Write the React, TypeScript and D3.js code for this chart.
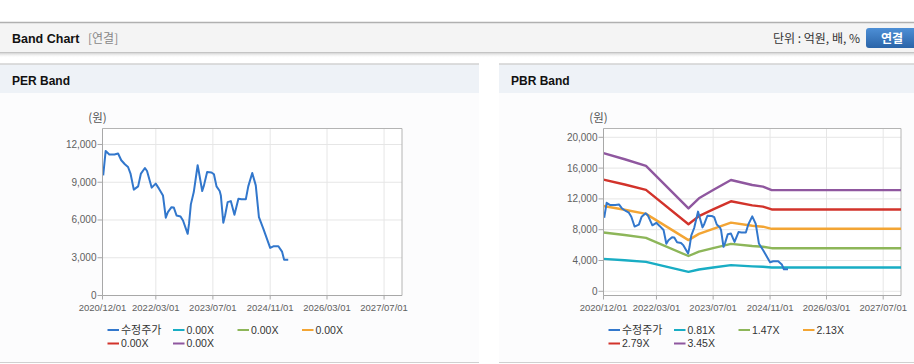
import React from 'react';
import * as d3 from 'd3';

// ---------- DATA ----------
const priceDates = [
  '2020-12-07', '2020-12-28', '2021-01-28', '2021-03-13', '2021-04-13', '2021-05-10', '2021-06-10',
  '2021-07-07', '2021-07-28', '2021-08-25', '2021-10-01', '2021-10-25', '2021-11-28', '2021-12-16',
  '2022-01-25', '2022-02-28', '2022-03-28', '2022-05-01', '2022-05-25', '2022-06-12', '2022-07-13',
  '2022-08-01', '2022-08-25', '2022-09-28', '2022-10-19', '2022-11-28', '2022-12-10', '2022-12-25',
  '2023-01-19', '2023-02-21', '2023-03-01', '2023-04-01', '2023-04-16', '2023-05-13', '2023-06-19',
  '2023-07-10', '2023-08-01', '2023-08-28', '2023-09-07', '2023-09-28', '2023-10-13', '2023-11-04',
  '2023-12-01', '2024-01-01', '2024-02-04', '2024-03-01', '2024-04-07', '2024-04-28', '2024-06-01',
  '2024-07-01', '2024-07-28', '2024-09-04', '2024-11-01', '2024-11-28', '2025-01-10', '2025-02-10',
  '2025-02-28', '2025-04-04',
];
const priceValues = [
  9550, 11490, 11200, 11200, 11280, 10750, 10430,
  10210, 9690, 8410, 8670, 9690, 10130, 9890,
  8570, 8890, 8490, 7955, 6180, 6620, 7020,
  7000, 6360, 6280, 5960, 4900, 5745, 7240,
  8220, 10350, 9950, 8300, 8750, 9810, 9780,
  9630, 8670, 8300, 7955, 5780, 6360, 7420,
  7500, 6410, 7690, 7640, 7640, 8670, 9735,
  8750, 6220, 5300, 3780, 3910, 3910, 3490,
  2850, 2850,
];

const bandDates = [
  '2020-12-01', '2021-06-01', '2021-12-01', '2022-12-01', '2023-03-01', '2023-07-01',
  '2023-12-01', '2024-06-01', '2024-09-01', '2024-11-15', '2027-12-01',
];
const band081 = [4212, 4026, 3823, 2527, 2835, 3086, 3394, 3240, 3191, 3086, 3086];
const band147 = [7644, 7306, 6938, 4586, 5145, 5601, 6159, 5880, 5792, 5601, 5601];
const band213 = [11076, 10586, 10054, 6646, 7455, 8115, 8925, 8520, 8392, 8115, 8115];
const band279 = [14508, 13866, 13169, 8705, 9765, 10630, 11690, 11160, 10993, 10630, 10630];
const band345 = [17940, 17147, 16284, 10764, 12075, 13145, 14456, 13800, 13593, 13145, 13145];

const perLegendLabels = ['수정주가', '0.00X', '0.00X', '0.00X', '0.00X', '0.00X'];
const pbrLegendLabels = ['수정주가', '0.81X', '1.47X', '2.13X', '2.79X', '3.45X'];
const xTickDates = ['2020-12-01', '2022-03-01', '2023-07-01', '2024-11-01', '2026-03-01', '2027-07-01'];
const xDomainDates = ['2020-12-01', '2027-12-01'];
const perYTicks = [0, 3000, 6000, 9000, 12000];
const pbrYTicks = [0, 4000, 8000, 12000, 16000, 20000];
const perYDomain = [0, 13270];
const pbrYDomain = [-545, 21143];

// ---------- STYLE ----------
const seriesColors = ['#3277cc', '#19adc4', '#8db659', '#f3a534', '#d2332b', '#8f579f'];
const FONT = '"Liberation Sans", Arial, "Noto Sans CJK KR", sans-serif';
const KFONT = '"Noto Sans CJK KR", "Liberation Sans", sans-serif';

const parse = d3.utcParse('%Y-%m-%d');
const fmtTick = d3.utcFormat('%Y/%m/%d');
const fmtNum = d3.format(',');

type ChartProps = {
  left: number; right: number; top: number; bottom: number;
  yDomain: number[]; yTicks: number[]; legend: string[]; showBands: boolean;
};

function BandChart({ left, right, top, bottom, yDomain, yTicks, legend, showBands }: ChartProps) {
  const x = d3.scaleUtc().domain(xDomainDates.map((d) => parse(d) as Date)).range([left, right]);
  const y = d3.scaleLinear().domain(yDomain).range([bottom, top]);
  const line = d3.line<[Date, number]>().x((d) => x(d[0])).y((d) => y(d[1]));
  const pricePts: [Date, number][] = priceDates.map((d, i) => [parse(d) as Date, priceValues[i]]);
  const bands = [band081, band147, band213, band279, band345];
  const bandPaths = bands.map((b) => line(bandDates.map((d, i) => [parse(d) as Date, b[i]] as [Date, number])) || '');
  const clipId = `clip-${Math.round(left)}`;

  const legendCols = [5, 70.5, 135, 199.5];
  return (
    <g>
      <defs>
        <clipPath id={clipId}>
          <rect x={left} y={top} width={right - left} height={bottom - top} />
        </clipPath>
      </defs>
      <rect x={left} y={top} width={right - left} height={bottom - top} fill="#ffffff" />
      {/* grid */}
      {yTicks.map((t) => (
        <line key={'gy' + t} x1={left} x2={right} y1={y(t)} y2={y(t)} stroke="#e6e6e6" strokeWidth={1} />
      ))}
      {xTickDates.map((t) => (
        <line key={'gx' + t} x1={x(parse(t) as Date)} x2={x(parse(t) as Date)} y1={top} y2={bottom} stroke="#e6e6e6" strokeWidth={1} />
      ))}
      {/* border */}
      <line x1={left} x2={right} y1={top} y2={top} stroke="#b4b4b4" />
      <line x1={right} x2={right} y1={top} y2={bottom} stroke="#b4b4b4" />
      {/* series */}
      <g clipPath={`url(#${clipId})`}>
        {showBands &&
          bandPaths.map((p, i) => (
            <path key={'b' + i} d={p} fill="none" stroke={seriesColors[i + 1]} strokeWidth={2.4} strokeLinejoin="round" />
          ))}
        <path d={line(pricePts) || ''} fill="none" stroke={seriesColors[0]} strokeWidth={2} strokeLinejoin="round" />
      </g>
      {/* axes */}
      <line x1={left} x2={left} y1={top} y2={bottom} stroke="#a8a8a8" />
      <line x1={left} x2={right} y1={bottom} y2={bottom} stroke="#a8a8a8" />
      {yTicks.map((t) => (
        <g key={'ty' + t}>
          <line x1={left - 5} x2={left} y1={y(t)} y2={y(t)} stroke="#a8a8a8" />
          <text x={left - 6} y={y(t)} dy="0.35em" textAnchor="end" fontSize={10} fill="#606060" fontFamily={FONT}>
            {fmtNum(t)}
          </text>
        </g>
      ))}
      {xTickDates.map((t) => {
        const xx = x(parse(t) as Date);
        return (
          <g key={'tx' + t}>
            <line x1={xx} x2={xx} y1={bottom} y2={bottom + 4} stroke="#a8a8a8" />
            <text x={xx} y={311} textAnchor="middle" fontSize={9.5} fill="#606060" fontFamily={FONT}>
              {fmtTick(parse(t) as Date)}
            </text>
          </g>
        );
      })}
      <text x={left - 5} y={122} textAnchor="middle" fontSize={11.5} fill="#555" fontFamily={KFONT}>
        (원)
      </text>
      {/* legend */}
      {legend.map((lab, i) => {
        const col = i % 4;
        const row = Math.floor(i / 4);
        const lx = left + legendCols[col];
        const ly = 330 + row * 13.5;
        return (
          <g key={'lg' + i}>
            <line x1={lx} x2={lx + 11.5} y1={ly} y2={ly} stroke={seriesColors[i]} strokeWidth={2} />
            <text x={lx + 13.5} y={ly} dy="0.36em" fontSize={i === 0 ? 11 : 10.5} fill="#333" fontFamily={i === 0 ? KFONT : FONT}>
              {lab}
            </text>
          </g>
        );
      })}
    </g>
  );
}

export default function App() {
  return (
    <svg
      width={914}
      height={364}
      viewBox="0 0 914 364"
      style={{ position: 'absolute', left: 0, top: 0, display: 'block', background: '#ffffff' }}
    >
      <defs>
        <linearGradient id="hdrShadow" x1="0" y1="0" x2="0" y2="1">
          <stop offset="0" stopColor="#cfcfcf" stopOpacity={0.9} />
          <stop offset="1" stopColor="#ffffff" stopOpacity={0} />
        </linearGradient>
        <linearGradient id="btnGrad" x1="0" y1="0" x2="0" y2="1">
          <stop offset="0" stopColor="#4d8fd6" />
          <stop offset="1" stopColor="#2a64a8" />
        </linearGradient>
      </defs>
      {/* header */}
      <rect x={0} y={22} width={914} height={31} fill="#f4f4f4" />
      <line x1={0} x2={914} y1={22.5} y2={22.5} stroke="#b0b0b0" strokeWidth={1.5} />
      <line x1={0} x2={914} y1={52.5} y2={52.5} stroke="#c4c4c4" strokeWidth={1} />
      <rect x={0} y={53} width={914} height={5} fill="url(#hdrShadow)" />
      <text x={12} y={43} fontSize={12.5} fontWeight="bold" fill="#111" fontFamily={FONT}>Band Chart</text>
      <text x={88} y={43} fontSize={12} fill="#888" fontFamily={KFONT}>[연결]</text>
      <text x={860} y={43} textAnchor="end" fontSize={12} fill="#333" fontFamily={KFONT}>단위 : 억원, 배, %</text>
      <rect x={866} y={28} width={54} height={20} rx={3} fill="url(#btnGrad)" />
      <text x={892} y={42.5} textAnchor="middle" fontSize={12} fontWeight="bold" fill="#ffffff" fontFamily={KFONT}>연결</text>

      {/* panels */}
      {[
        { x0: 0, x1: 479, title: 'PER Band' },
        { x0: 499, x1: 914, title: 'PBR Band' },
      ].map((p) => (
        <g key={p.title}>
          <rect x={p.x0} y={64} width={p.x1 - p.x0} height={299} fill="#fcfcfd" />
          <rect x={p.x0} y={64} width={p.x1 - p.x0} height={29} fill="#eef2f7" />
          <line x1={p.x0} x2={p.x1} y1={64} y2={64} stroke="#d2d2d2" strokeWidth={1.5} />
          <line x1={p.x0} x2={p.x1} y1={362.5} y2={362.5} stroke="#d0d0d0" />
          <text x={p.x0 + 12} y={85} fontSize={12} fontWeight="bold" fill="#111" fontFamily={FONT}>{p.title}</text>
        </g>
      ))}

      <BandChart left={102.5} right={402} top={128.5} bottom={295.5} yDomain={perYDomain} yTicks={perYTicks} legend={perLegendLabels} showBands={false} />
      <BandChart left={603.5} right={901} top={128.5} bottom={295.5} yDomain={pbrYDomain} yTicks={pbrYTicks} legend={pbrLegendLabels} showBands={true} />
    </svg>
  );
}
